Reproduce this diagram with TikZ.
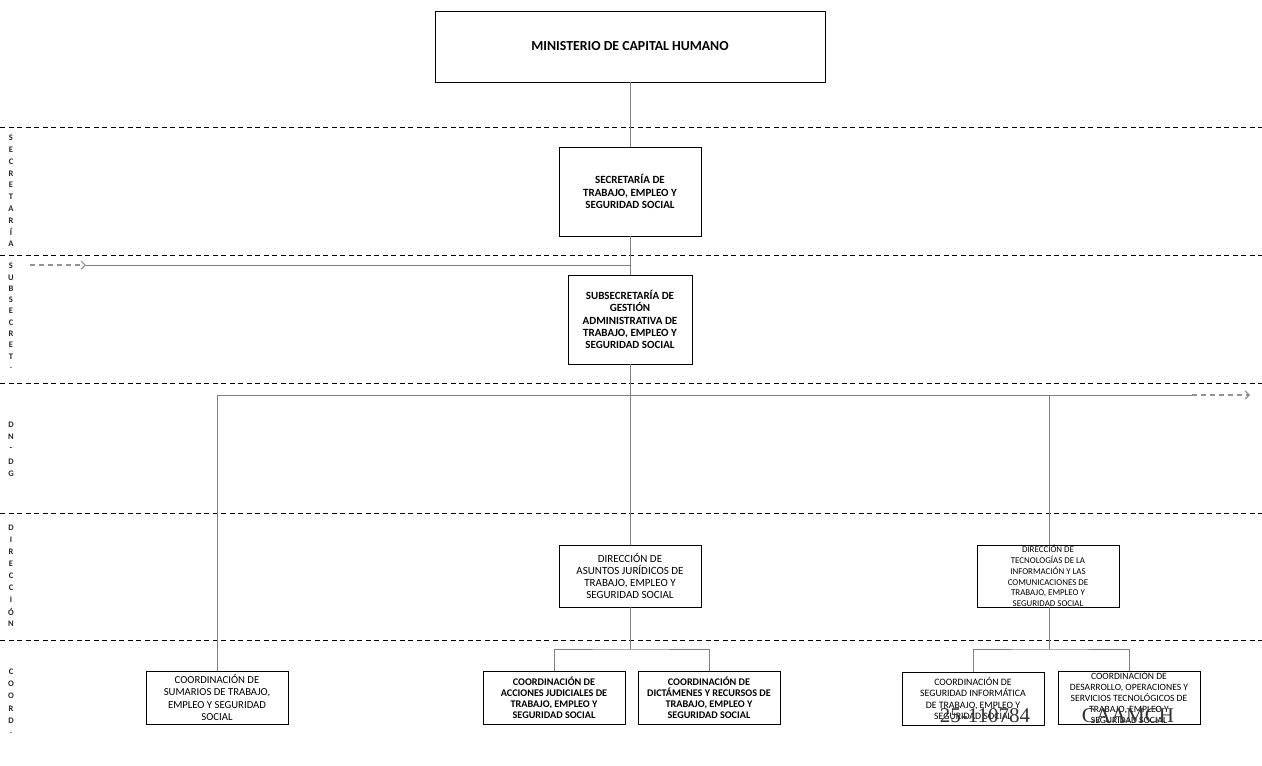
\documentclass[tikz,border=0pt]{standalone}
\usepackage{fontspec}
\setmainfont{Carlito}
\newfontfamily\stampfont{Liberation Serif}
\usetikzlibrary{arrows.meta}
\definecolor{conngray}{HTML}{7F7F7F}
\definecolor{lblgray}{HTML}{262626}
\begin{document}
\begin{tikzpicture}[x=1pt,y=-1pt,
  box/.style={draw=black, line width=0.9pt, fill=white, align=center, inner xsep=2pt, inner ysep=2pt, text=black},
  fbig/.style={font=\fontsize{13.8}{16}\selectfont\bfseries},
  fhead/.style={font=\fontsize{11}{12.3}\selectfont\bfseries},
  fdir/.style={font=\fontsize{11}{12}\selectfont},
  fdti/.style={font=\fontsize{8.9}{10.7}\selectfont},
  fco/.style={font=\fontsize{10.7}{12.3}\selectfont},
  fcob/.style={font=\fontsize{10.2}{11}\selectfont\bfseries},
  fcos/.style={font=\fontsize{9.8}{11.5}\selectfont},
  conn/.style={draw=conngray, line width=0.8pt},
  dconn/.style={draw=conngray!85, line width=1.2pt, dash pattern=on 5pt off 4pt, -{Straight Barb[length=4pt,width=8pt,line width=1.2pt]}},
  band/.style={draw=black, line width=0.8pt, dash pattern=on 5pt off 3.5pt},
  lbl/.style={font=\fontsize{8.5}{9}\selectfont\bfseries, text=lblgray, inner sep=0pt},
  stamp/.style={font=\stampfont\fontsize{21}{21}\selectfont, text=black!80, inner sep=0pt}
]
\useasboundingbox (0,0) rectangle (1262,766);

% band separators
\foreach \yy/\nm in {127/a,255/b,383/c,513/d,640/e} {
  \coordinate (bandL\nm) at (0,\yy);
  \coordinate (bandR\nm) at (1262,\yy);
  \draw[band] (bandL\nm) -- (bandR\nm);
}

% side labels
\foreach \t [count=\i] in {S,E,C,R,E,T,A,R,Í,A}
  \node[lbl] (ls\i) at (11,{138+(\i-1)*11.8}) {\t};
\foreach \t [count=\i] in {S,U,B,S,E,C,R,E,T,.}
  \node[lbl] (lu\i) at (11,{266+(\i-1)*11.3}) {\t};
\foreach \t [count=\i] in {D,N,-,D,G}
  \node[lbl] (ln\i) at (11,{425+(\i-1)*12.2}) {\t};
\foreach \t [count=\i] in {D,I,R,E,C,C,I,Ó,N}
  \node[lbl] (ld\i) at (11,{528+(\i-1)*12}) {\t};
\foreach \t [count=\i] in {C,O,O,R,D,.}
  \node[lbl] (lc\i) at (11,{672+(\i-1)*12.1}) {\t};

% boxes
\node[box, fbig, minimum width=390pt, minimum height=71pt] (min) at (630,46.5) {MINISTERIO DE CAPITAL HUMANO};
\node[box, fhead, minimum width=142pt, minimum height=89pt] (sec) at (630,191.5) {SECRETARÍA DE\\TRABAJO, EMPLEO Y\\SEGURIDAD SOCIAL};
\node[box, fhead, minimum width=124pt, minimum height=89pt] (sub) at (630,319.5) {SUBSECRETARÍA DE\\GESTIÓN\\ADMINISTRATIVA DE\\TRABAJO, EMPLEO Y\\SEGURIDAD SOCIAL};
\node[box, fdir, minimum width=142pt, minimum height=62pt] (dir1) at (630,576) {DIRECCIÓN DE\\ASUNTOS JURÍDICOS DE\\TRABAJO, EMPLEO Y\\SEGURIDAD SOCIAL};
\node[box, fdti, inner ysep=-4pt, minimum width=142pt, minimum height=62pt] (dir2) at (1048,576) {DIRECCIÓN DE\\TECNOLOGÍAS DE LA\\INFORMACIÓN Y LAS\\COMUNICACIONES DE\\TRABAJO, EMPLEO Y\\SEGURIDAD SOCIAL};
\node[box, fco, minimum width=142pt, minimum height=53pt] (c1) at (217,697.5) {COORDINACIÓN DE\\SUMARIOS DE TRABAJO,\\EMPLEO Y SEGURIDAD\\SOCIAL};
\node[box, fcob, minimum width=142pt, minimum height=53pt] (c2) at (554,697.5) {COORDINACIÓN DE\\ACCIONES JUDICIALES DE\\TRABAJO, EMPLEO Y\\SEGURIDAD SOCIAL};
\node[box, fcob, minimum width=142pt, minimum height=53pt] (c3) at (709,697.5) {COORDINACIÓN DE\\DICTÁMENES Y RECURSOS DE\\TRABAJO, EMPLEO Y\\SEGURIDAD SOCIAL};
\node[box, fcos, minimum width=142pt, minimum height=53pt] (c4) at (973,698.5) {COORDINACIÓN DE\\SEGURIDAD INFORMÁTICA\\DE TRABAJO, EMPLEO Y\\SEGURIDAD SOCIAL};
\node[box, inner ysep=-4pt, font=\fontsize{9.6}{10.8}\selectfont, minimum width=142pt, minimum height=53pt] (c5) at (1129,697.5) {COORDINACIÓN DE\\DESARROLLO, OPERACIONES Y\\SERVICIOS TECNOLÓGICOS DE\\TRABAJO, EMPLEO Y\\SEGURIDAD SOCIAL};

% junction coordinates
\coordinate (lStart) at (30,265);
\coordinate (lTip) at (86,265);
\coordinate (secJ) at (630,265);
\coordinate (busL) at (217,395);
\coordinate (busC) at (630,395);
\coordinate (busD) at (1049,395);
\coordinate (busR) at (1192,395);
\coordinate (busTip) at (1250,395);
\coordinate (j1) at (630,649);
\coordinate (j2) at (1049,649);

% connectors
\draw[conn] (min.south) -- (sec.north);
\draw[conn] (sec.south) -- (sub.north);
\draw[conn] (lTip) -- (secJ);
\draw[dconn] (lStart) -- (lTip);
\draw[conn] (sub.south) -- (busC);
\draw[conn] (c1.north) -- (busL) -- (busR);
\draw[dconn] (busR) -- (busTip);
\draw[conn] (busC) -- (dir1.north);
\draw[conn] (busD) -- (busD |- dir2.north);
\draw[conn] (dir1.south) -- (j1);
\draw[conn] (c2.north) |- (j1) -| (c3.north);
\draw[conn] (dir2.south -| busD) -- (j2);
\draw[conn] (c4.north) |- (j2) -| (c5.north);

% overlaid stamp text
\node[stamp] (st1) at (985,716) {25-110784};
\node[stamp] (st2) at (1128,716) {CAAMCH};
\end{tikzpicture}
\end{document}
